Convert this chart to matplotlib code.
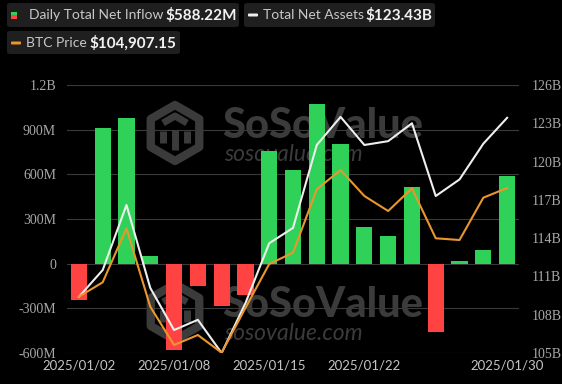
import numpy as np
import matplotlib
matplotlib.use("Agg")
import matplotlib.pyplot as plt
from matplotlib.patches import FancyBboxPatch, Polygon, Rectangle
from matplotlib.lines import Line2D

plt.rcParams['font.family'] = ['Liberation Serif', 'DejaVu Serif']

dates = ["2025/01/02", "2025/01/03", "2025/01/06", "2025/01/07", "2025/01/08",
         "2025/01/10", "2025/01/13", "2025/01/14", "2025/01/15", "2025/01/16",
         "2025/01/17", "2025/01/21", "2025/01/22", "2025/01/23", "2025/01/24",
         "2025/01/27", "2025/01/28", "2025/01/29", "2025/01/30"]
# daily total net inflow, USD millions
net_inflow = [-242.3, 908.1, 978.6, 52.4, -582.6, -149.4, -284.1, -209.2, 755.0,
              626.0, 1072.0, 802.6, 248.8, 188.1, 517.7, -457.6, 15.2, 91.2, 588.22]
# total net assets, USD billions
net_assets = [109.4, 111.5, 116.6, 110.1, 106.8, 107.6, 105.0, 108.9, 113.6,
              114.8, 121.3, 123.5, 121.3, 121.6, 123.0, 117.3, 118.6, 121.4, 123.43]
# BTC price, USD
btc_price = [97722, 98673, 102243, 97060, 94529, 95190, 94020, 96975, 99883,
             100630, 104820, 106096, 104378, 103386, 104887, 101582, 101469,
             104265, 104907.15]
tick_idx = [0, 4, 8, 12, 18]
left_ticks = [-600, -300, 0, 300, 600, 900, 1200]
left_labels = ["-600M", "-300M", "0", "300M", "600M", "900M", "1.2B"]
right_ticks = [105, 108, 111, 114, 117, 120, 123, 126]

GREEN = "#30d158"
RED = "#ff4343"
WHITE = "#eeeeee"
ORANGE = "#eb962c"
BG = "#000000"
GRID = "#3a3a3a"
WM = "#3b3b3b"

W, H = 562, 384
fig = plt.figure(figsize=(W / 100, H / 100), dpi=100, facecolor=BG)


def fx(px):
    return px / W


def fy(py):
    return 1 - py / H


ax = fig.add_axes([fx(67), fy(353), fx(519) - fx(67), fy(85) - fy(353)])
ax.set_facecolor("none")
ax.set_zorder(2)

# watermarks (behind everything)
for cy in (133, 312):
    r = 28
    ang = np.deg2rad(np.arange(90, 450, 60))
    verts = [(fx(175 + r * np.cos(a)), fy(cy - r * np.sin(a))) for a in ang]
    fig.patches.append(Polygon(verts, closed=True, transform=fig.transFigure,
                               facecolor="none", edgecolor=WM, linewidth=6,
                               joinstyle="round", zorder=0))
    # inner cube-like strokes
    segs = [[(163, cy - 10), (175, cy - 17), (187, cy - 10)],
            [(175, cy - 3), (175, cy + 17)],
            [(163, cy - 2), (163, cy + 10)],
            [(187, cy - 2), (187, cy + 10)]]
    for seg in segs:
        fig.lines.append(Line2D([fx(p[0]) for p in seg], [fy(p[1]) for p in seg],
                                transform=fig.transFigure, color=WM, linewidth=5,
                                solid_capstyle="butt", zorder=0))
    fig.text(fx(222), fy(cy - 7), "SoSoValue", color=WM, fontsize=30,
             fontweight="black", family="Lato", va="center", ha="left", zorder=0)
    fig.text(fx(224), fy(cy + 22), "sosovalue.com", color=WM, fontsize=16.5,
             style="italic", family="Lato", va="center", ha="left", zorder=0)

x = list(range(len(dates)))
colors = [GREEN if v >= 0 else RED for v in net_inflow]
ax.bar(x, net_inflow, width=0.68, color=colors, zorder=3)
ax.set_xlim(-0.5, len(dates) - 0.5)
ax.set_ylim(-600, 1200)
ax.set_yticks(left_ticks)
ax.set_yticklabels(left_labels, fontfamily="Liberation Serif")
ax.set_xticks(tick_idx)
ax.set_xticklabels([dates[i] for i in tick_idx], fontfamily="Lato")
ax.grid(axis="y", color=GRID, linewidth=0.8, zorder=1)
ax.set_axisbelow(True)
ax.tick_params(axis="y", length=0, pad=8, colors="#a8a8a8", labelsize=10)
ax.tick_params(axis="x", length=0, pad=5, colors="#c4c4c4", labelsize=9.5)
for s in ax.spines.values():
    s.set_visible(False)

ax2 = ax.twinx()
ax2.plot(x, net_assets, color=WHITE, linewidth=1.5, zorder=5)
ax2.set_ylim(105, 126)
ax2.set_yticks(right_ticks)
ax2.set_yticklabels([f"{t}B" for t in right_ticks], fontfamily="Liberation Serif")
ax2.tick_params(axis="y", length=0, pad=9, colors="#a8a8a8", labelsize=10)
for s in ax2.spines.values():
    s.set_visible(False)

ax3 = ax.twinx()
ax3.plot(x, btc_price, color=ORANGE, linewidth=1.5, zorder=4)
ax3.set_ylim(94000, 111715)
ax3.set_yticks([])
for s in ax3.spines.values():
    s.set_visible(False)

# legend boxes
boxes = [(7, 3, 232, 24), (244, 3, 191, 24), (7, 31, 173, 23)]
for bx, by, bw, bh in boxes:
    fig.patches.append(FancyBboxPatch((fx(bx), fy(by + bh)), fx(bw), fy(0) - fy(bh),
                                      boxstyle="round,pad=0,rounding_size=0.006",
                                      transform=fig.transFigure, facecolor="#1f1f1f",
                                      edgecolor="none", zorder=1))

fig.patches.append(Rectangle((fx(11), fy(15.5)), fx(6), fy(0) - fy(3.5),
                             transform=fig.transFigure, facecolor=GREEN, zorder=2))
fig.patches.append(Rectangle((fx(11), fy(19)), fx(6), fy(0) - fy(3.5),
                             transform=fig.transFigure, facecolor=RED, zorder=2))
fig.patches.append(FancyBboxPatch((fx(248), fy(16.5)), fx(10), fy(0) - fy(3),
                                  boxstyle="round,pad=0,rounding_size=0.002",
                                  transform=fig.transFigure, facecolor=WHITE,
                                  edgecolor="none", zorder=2))
fig.patches.append(FancyBboxPatch((fx(11), fy(44.5)), fx(10), fy(0) - fy(3),
                                  boxstyle="round,pad=0,rounding_size=0.002",
                                  transform=fig.transFigure, facecolor=ORANGE,
                                  edgecolor="none", zorder=2))

label_kw = dict(color="#c8c8c8", fontsize=10, family="Lato", va="center", ha="left")
value_kw = dict(color="#f2f2f2", fontsize=11, family="Lato", fontweight="bold",
                va="center", ha="left")
fig.text(fx(29), fy(15), "Daily Total Net Inflow", **label_kw)
fig.text(fx(165), fy(15), "$588.22M", **value_kw)
fig.text(fx(263), fy(15), "Total Net Assets", **label_kw)
fig.text(fx(365), fy(15), "$123.43B", **value_kw)
fig.text(fx(26), fy(43), "BTC Price", **label_kw)
fig.text(fx(89), fy(43), "$104,907.15", **value_kw)

fig.savefig("out.png", dpi=100, facecolor=BG)
